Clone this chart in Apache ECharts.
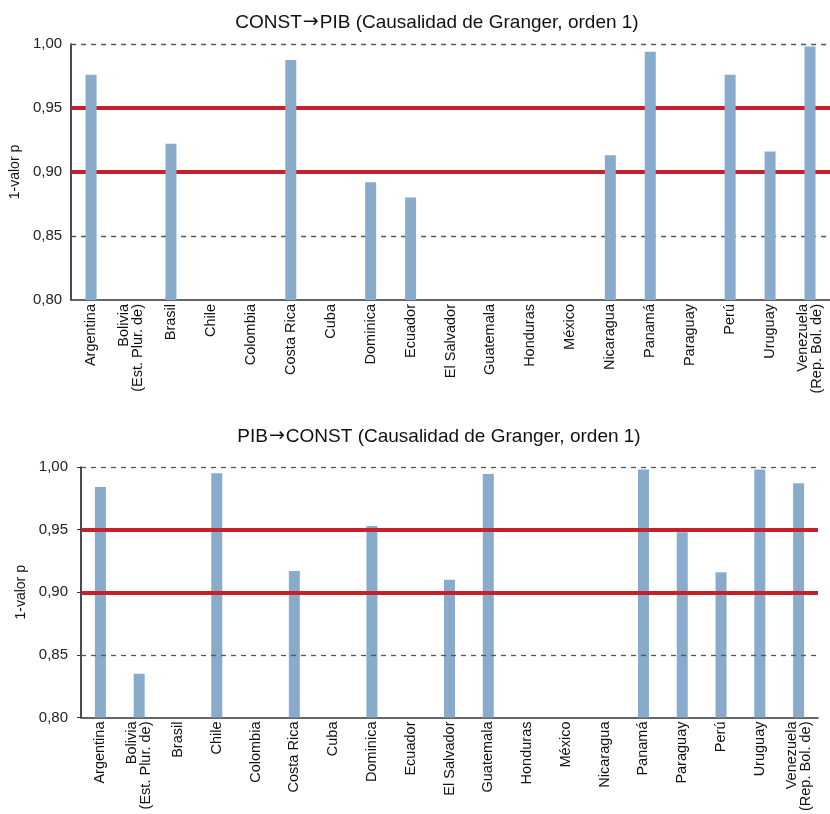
<!DOCTYPE html>
<html><head><meta charset="utf-8">
<script src="https://cdn.jsdelivr.net/npm/echarts@6/dist/echarts.min.js"></script>
<style>html,body{margin:0;padding:0;background:#fff}#c{width:830px;height:814px}</style>
</head><body><div id="c"></div>
<script>
const categories = ["Argentina","Bolivia\n(Est. Plur. de)","Brasil","Chile","Colombia","Costa Rica","Cuba","Dominica","Ecuador","El Salvador","Guatemala","Honduras","México","Nicaragua","Panamá","Paraguay","Perú","Uruguay","Venezuela\n(Rep. Bol. de)"];
const constToPib = [0.976,null,0.922,null,null,0.9875,null,0.892,0.880,null,null,null,null,0.913,0.994,null,0.976,0.916,0.998];
const pibToConst = [0.984,0.835,null,0.995,null,0.917,null,0.953,null,0.910,0.9945,null,null,null,0.998,0.948,0.916,0.998,0.987];
const titles = ["CONST→PIB (Causalidad de Granger, orden 1)","PIB→CONST (Causalidad de Granger, orden 1)"];
const yTicks = [0.80,0.85,0.90,0.95,1.00];
const redLines = [0.95,0.90];
const dashLines = [1.00,0.85];

const font = "Liberation Sans, Arial, sans-serif";
const barColor = "#88abcc";
const red = "#c4212b";
const chart = echarts.init(document.getElementById('c'));

function yAxis(gi, gap, margin){
  return {gridIndex:gi,type:'value',min:yTicks[0],max:yTicks[yTicks.length-1],interval:0.05,
    name:'1-valor p',nameLocation:'middle',nameRotate:90,nameGap:gap,
    nameTextStyle:{fontFamily:font,fontSize:14,color:'#111'},
    axisLine:{show:true,lineStyle:{color:'#111',width:1.5}},
    axisTick:{show:gi===1,length:4,lineStyle:{color:'#333'}},
    splitLine:{show:false},
    axisLabel:{fontFamily:font,fontSize:15,color:'#222',margin:margin,
      formatter:v=>v.toFixed(2).replace('.',',')}};
}
function xAxis(gi){
  return {gridIndex:gi,type:'category',data:categories,
    axisLine:{show:true,lineStyle:{color:'#333',width:1.5}},
    axisTick:{show:false},
    axisLabel:{interval:0,rotate:90,fontFamily:font,fontSize:14.5,color:'#111',margin:4,lineHeight:14}};
}
function refSeries(gi, z){
  return [{type:'line',xAxisIndex:gi,yAxisIndex:gi,data:[],z:z,silent:true,
    markLine:{symbol:'none',silent:true,label:{show:false},
      data:redLines.map(v=>({yAxis:v,lineStyle:{color:red,width:4,type:'solid'}}))
        .concat(dashLines.map(v=>({yAxis:v,lineStyle:{color:'#555',width:1.3,type:[5,5]}})))}}];
}
function barSeries(gi,data,z){
  return {type:'bar',xAxisIndex:gi,yAxisIndex:gi,data:data,barWidth:11,z:z,
    itemStyle:{color:barColor},silent:true};
}
function titleOpt(t,x,y){
  return {text:t.replace('→','{a|→}'),left:x,top:y,textAlign:'center',
    textStyle:{fontFamily:font,fontSize:19,fontWeight:'normal',color:'#111',
      rich:{a:{fontFamily:'DejaVu Sans',fontSize:19,color:'#111',padding:[0,1,0,1]}}}};
}
chart.setOption({
  animation:false,
  title:[titleOpt(titles[0],432,8),titleOpt(titles[1],434,422)],
  grid:[
    {left:69,right:0,top:44,height:256},
    {left:81,right:12,top:467,height:253}
  ],
  xAxis:[xAxis(0),xAxis(1)],
  yAxis:[yAxis(0,43,9),yAxis(1,48,13)],
  series:[
    ...refSeries(0,1),
    barSeries(0,constToPib,5),
    barSeries(1,pibToConst,1),
    ...refSeries(1,5)
  ]
});
</script></body></html>
